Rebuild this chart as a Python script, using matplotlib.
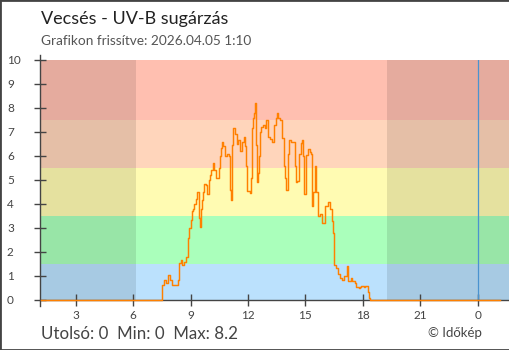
import matplotlib
matplotlib.use("Agg")
import matplotlib.pyplot as plt
from matplotlib.patches import Rectangle

plt.rcParams['font.family'] = ['Lato', 'DejaVu Sans']

title = "Vecsés - UV-B sugárzás"
subtitle = "Grafikon frissítve: 2026.04.05 1:10"
credit = "© Időkép"

# decimal hours (24+ = next day)
hours = [1.17, 7.51, 7.62, 7.72, 7.83, 7.93, 8.03, 8.35, 8.40, 8.51, 8.56, 8.66, 8.77,
         8.87, 8.93, 9.03, 9.08, 9.14, 9.19, 9.29, 9.34, 9.42, 9.47, 9.55, 9.61, 9.66,
         9.71, 9.82, 9.87, 9.97, 10.03, 10.08, 10.18, 10.24, 10.34, 10.50, 10.55, 10.60,
         10.65, 10.71, 10.81, 10.92, 11.02, 11.07, 11.13, 11.18, 11.23, 11.33, 11.44,
         11.49, 11.60, 11.70, 11.81, 11.86, 11.91, 11.96, 12.12, 12.17, 12.20, 12.28,
         12.33, 12.38, 12.43, 12.49, 12.54, 12.59, 12.64, 12.70, 12.80, 12.91, 12.96,
         13.06, 13.17, 13.27, 13.38, 13.48, 13.53, 13.59, 13.69, 13.80, 13.90, 13.95,
         14.01, 14.11, 14.16, 14.27, 14.48, 14.53, 14.58, 14.69, 14.79, 14.84, 14.90,
         14.95, 15.05, 15.16, 15.26, 15.32, 15.37, 15.42, 15.52, 15.58, 15.68, 15.79,
         15.89, 16.00, 16.20, 16.31, 16.41, 16.47, 16.52, 16.62, 16.73, 16.83, 16.94,
         17.04, 17.15, 17.25, 17.36, 17.46, 17.57, 17.67, 17.78, 17.88, 17.93, 18.04,
         18.14, 18.25, 18.35, 18.40, 25.17]
uv = [0.00, 0.62, 0.83, 0.70, 1.05, 0.83, 0.62, 0.83, 1.55, 1.65, 1.46, 1.60, 1.80,
      2.60, 3.00, 3.35, 3.70, 3.80, 4.00, 4.20, 4.50, 3.40, 3.05, 3.80, 4.15, 4.50,
      4.85, 4.80, 4.40, 5.00, 5.20, 5.40, 5.70, 5.40, 5.10, 5.50, 6.00, 6.35,
      6.60, 6.40, 6.00, 6.10, 6.00, 4.60, 4.15, 6.45, 7.15, 6.90, 6.50,
      6.65, 6.20, 6.60, 6.80, 6.40, 5.60, 4.55, 4.45, 5.10, 7.15, 7.60,
      7.80, 8.20, 6.45, 4.90, 5.30, 6.00, 7.00, 7.20, 7.30, 7.15, 7.50,
      6.80, 6.70, 6.60, 7.30, 7.60, 7.80, 7.60, 7.50, 6.75, 5.60, 5.10,
      4.60, 6.10, 6.65, 6.60, 5.60, 4.90, 4.95, 6.10, 6.55, 6.65, 6.00,
      4.40, 6.05, 6.30, 6.15, 6.10, 3.90, 4.50, 5.60, 4.50, 3.50, 3.60,
      3.20, 3.90, 4.10, 3.80, 3.30, 2.80, 1.45, 1.35, 1.10, 0.90, 0.85,
      1.00, 1.40, 0.80, 0.90, 0.80, 0.70, 0.55, 0.50, 0.55, 0.60, 0.55,
      0.60, 0.35, 0.10, 0.00, 0.00]

band_edges = [0, 1.5, 3.5, 5.5, 7.5, 10]
band_colors = ['#bbe1fd', '#aaffbb', '#fffbb2', '#ffd5bb', '#ffbfb0']
night_spans = [(1.135, 6.15), (19.26, 25.64)]
midnight = 24
xtick_pos = [3, 6, 9, 12, 15, 18, 21, 24]
xtick_labels = ['3', '6', '9', '12', '15', '18', '21', '0']
ytick_pos = list(range(0, 11))
x_range = (1.135, 25.64)
y_range = (0, 10)
stat_names = ["Utolsó", "Min", "Max"]
stat_values = [0, 0, 8.2]

W, H = 510, 350
fig = plt.figure(figsize=(W / 100, H / 100), dpi=100)
fig.patch.set_facecolor('white')
ax = fig.add_axes([40 / W, 50 / H, 469 / W, 240 / H])

for lo, hi, c in zip(band_edges[:-1], band_edges[1:], band_colors):
    ax.axhspan(lo, hi, color=c, lw=0, zorder=0)
for a, b in night_spans:
    ax.axvspan(a, b, color='black', alpha=0.1, lw=0, zorder=1)
ax.axvline(midnight, color='#4a93d0', lw=0.9, zorder=2)
ax.plot(hours, uv, drawstyle='steps-post', color='#ff8000', lw=1.05,
        zorder=3, clip_on=False)

ax.set_xlim(*x_range)
ax.set_ylim(*y_range)
ax.set_xticks(xtick_pos)
ax.set_xticklabels(xtick_labels)
ax.set_yticks(ytick_pos)
for s in ['top', 'right']:
    ax.spines[s].set_visible(False)
for s in ['left', 'bottom']:
    ax.spines[s].set_color('#444444')
    ax.spines[s].set_linewidth(1.0)
ax.spines['left'].set_bounds(-0.25, 10.2)
ax.tick_params(axis='both', direction='inout', length=9, width=1.0,
               color='#444444', labelcolor='#444444', labelsize=8.5)
ax.tick_params(axis='x', pad=3)
ax.tick_params(axis='y', pad=19.3)
for lbl in ax.get_yticklabels():
    lbl.set_horizontalalignment('left')

fig.text(41 / W, 1 - 24 / H, title, fontsize=13, color='#222222', va='baseline')
fig.text(41 / W, 1 - 45 / H, subtitle, fontsize=9.8, color='#555555', va='baseline')
footer = "  ".join(f"{n}: {v:g}" for n, v in zip(stat_names, stat_values))
fig.text(41 / W, 1 - 339 / H, footer, fontsize=12.2, color='#444444', va='baseline')
fig.text(482 / W, 1 - 337 / H, credit, fontsize=9.5, color='#444444',
         va='baseline', ha='right')

fig.add_artist(Rectangle((0, 0), 1, 1, transform=fig.transFigure, fill=False,
                         edgecolor='#444444', lw=2, zorder=10))

fig.savefig('out.png', dpi=100)
